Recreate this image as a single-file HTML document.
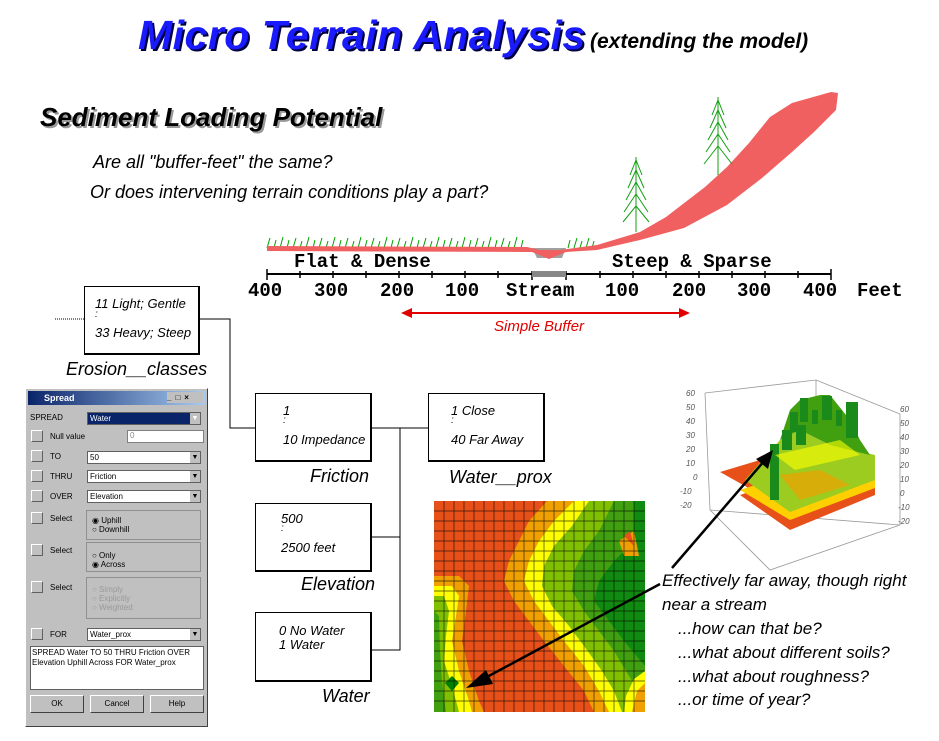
<!DOCTYPE html>
<html><head><meta charset="utf-8"><style>
body{margin:0;background:#fff;}
#c{position:relative;width:939px;height:741px;overflow:hidden;background:#fff;font-family:"Liberation Sans",sans-serif;}
.t{position:absolute;white-space:nowrap;}
.hw{font-style:italic;font-family:"Liberation Sans",sans-serif;color:#000;}
.box{position:absolute;border:1px solid #000;border-right:2px solid #000;border-bottom:2px solid #000;background:#fff;}
.mono{font-family:"Liberation Mono",monospace;font-weight:bold;font-size:19px;position:absolute;white-space:nowrap;}
.dlg{position:absolute;left:25px;top:388px;width:181px;height:337px;background:#c0c0c0;border:1px solid #fff;border-right:1px solid #404040;border-bottom:1px solid #404040;font-size:8px;color:#000;}
.dlg .lb{position:absolute;}
.chk{position:absolute;width:10px;height:10px;border:1px solid #fff;border-right-color:#606060;border-bottom-color:#606060;background:#c0c0c0;}
.cb{position:absolute;height:11px;background:#fff;border:1px solid #606060;font-size:8px;line-height:11px;padding-left:2px;}
.cb:after{content:"▼";position:absolute;right:0;top:0;width:10px;height:11px;background:#c0c0c0;font-size:7px;text-align:center;}
.grp{position:absolute;border:1px solid #909090;}
.btn{position:absolute;height:16px;background:#c0c0c0;border:1px solid #fff;border-right-color:#404040;border-bottom-color:#404040;text-align:center;line-height:16px;font-size:8px;}
</style></head><body><div id="c">

<div class="t" style="left:138px;top:12px;font-size:41px;font-weight:bold;font-style:italic;color:#1a1aff;text-shadow:2px 2px 0 #000040;letter-spacing:0.5px;">Micro Terrain Analysis</div>
<div class="t" style="left:590px;top:30px;font-size:21px;font-weight:bold;font-style:italic;color:#000;">(extending the model)</div>
<div class="t" style="left:40px;top:102px;font-size:26px;font-weight:bold;font-style:italic;color:#000;text-shadow:2px 2px 0 #999;">Sediment Loading Potential</div>
<div class="t hw" style="left:93px;top:152px;font-size:18px;">Are all "buffer-feet" the same?</div>
<div class="t hw" style="left:90px;top:182px;font-size:18px;">Or does intervening terrain conditions play a part?</div>

<svg style="position:absolute;left:0;top:0" width="939" height="741">
<g stroke="#00a000" stroke-width="1">
<path d="M267 248 L270 238 M274 248 L276 240 M280 248 L283 237 M287 248 L289 240 M293 248 L296 238 M300 248 L302 241 M306 248 L309 237 M313 248 L315 240 M319 248 L322 238 M326 248 L328 241 M332 248 L335 237 M339 248 L341 240 M345 248 L348 238 M352 248 L354 241 M358 248 L361 237 M365 248 L367 240 M371 248 L374 238 M378 248 L380 241 M384 248 L387 237 M391 248 L393 240 M397 248 L400 238 M404 248 L406 241 M410 248 L413 237 M417 248 L419 240 M423 248 L426 238 M430 248 L432 241 M436 248 L439 237 M443 248 L445 240 M449 248 L452 238 M456 248 L458 241 M462 248 L465 237 M469 248 L471 240 M475 248 L478 238 M482 248 L484 241 M488 248 L491 237 M495 248 L497 240 M501 248 L504 238 M508 248 L510 241 M514 248 L517 237 M521 248 L523 240 M568 248 L570 240 M574 248 L577 238 M580 248 L582 241 M586 248 L589 238 M592 248 L594 241"/>
</g>
<polygon points="532,248 566,248 562,258 537,258" fill="#a0a0a0"/>
<polygon points="267,246 527,247 540,250 560,250 597,245 640,232 666,217 705,187 727,167 749,143 770,117 792,103 831,92 838,93 836,110 814,132 792,152 762,178 727,205 684,228 640,240 597,250 566,252 549,259 532,252 527,252 267,251" fill="#f06060"/>
<g stroke="#10a010" stroke-width="1" fill="none">
<line x1="636" y1="157" x2="636" y2="232"/>
<path d="M636 160 L630 175 M636 160 L642 175 M636 170 L628 188 M636 170 L644 188 M636 182 L626 200 M636 182 L646 200 M636 194 L624 212 M636 194 L648 212 M636 206 L623 222 M636 206 L649 222"/>
<line x1="718" y1="97" x2="718" y2="175"/>
<path d="M718 100 L712 115 M718 100 L724 115 M718 110 L710 128 M718 110 L726 128 M718 122 L708 140 M718 122 L728 140 M718 134 L706 152 M718 134 L730 152 M718 146 L704 164 M718 146 L732 164"/>
</g>
<line x1="267" y1="274" x2="831" y2="274" stroke="#000" stroke-width="2"/>
<g stroke="#000" stroke-width="1.5">
<path d="M267 269V280 M300 271V278 M333 271V278 M366 271V278 M399 271V278 M432 271V278 M465 271V278 M498 271V278 M532 271V280 M566 271V280 M600 271V278 M633 271V278 M666 271V278 M699 271V278 M732 271V278 M765 271V278 M798 271V278 M831 269V280"/>
</g>
<rect x="532" y="271" width="34" height="6" fill="#888"/>
<line x1="410" y1="313" x2="680" y2="313" stroke="#e00000" stroke-width="2"/>
<polygon points="401,313 412,308 412,318" fill="#e00000"/>
<polygon points="690,313 679,308 679,318" fill="#e00000"/>
<g stroke="#000" stroke-width="1" fill="none">
<line x1="55" y1="319" x2="84" y2="319" stroke-dasharray="1,1"/>
<polyline points="199,319 230,319 230,428 255,428"/>
<line x1="371" y1="428" x2="428" y2="428"/>
<polyline points="400,428 400,650 371,650"/>
<line x1="371" y1="537" x2="400" y2="537"/>
</g>
</svg>

<div class="t mono" style="left:294px;top:251px;">Flat &amp; Dense</div>
<div class="t mono" style="left:612px;top:251px;">Steep &amp; Sparse</div>
<div class="mono" style="left:248px;top:280px;">400</div>
<div class="mono" style="left:314px;top:280px;">300</div>
<div class="mono" style="left:380px;top:280px;">200</div>
<div class="mono" style="left:445px;top:280px;">100</div>
<div class="mono" style="left:506px;top:280px;">Stream</div>
<div class="mono" style="left:605px;top:280px;">100</div>
<div class="mono" style="left:672px;top:280px;">200</div>
<div class="mono" style="left:737px;top:280px;">300</div>
<div class="mono" style="left:803px;top:280px;">400</div>
<div class="mono" style="left:857px;top:280px;">Feet</div>
<div class="t" style="left:494px;top:318px;font-size:15px;font-style:italic;color:#e00000;">Simple Buffer</div>

<div class="box" style="left:84px;top:286px;width:113px;height:66px;"></div>
<div class="t hw" style="left:95px;top:296px;font-size:13px;">11 Light; Gentle</div>
<div class="t hw" style="left:95px;top:309px;font-size:10px;">:</div>
<div class="t hw" style="left:95px;top:325px;font-size:13px;">33 Heavy; Steep</div>
<div class="t hw" style="left:66px;top:359px;font-size:18px;">Erosion__classes</div>

<div class="box" style="left:255px;top:393px;width:114px;height:66px;"></div>
<div class="t hw" style="left:283px;top:403px;font-size:13px;">1</div>
<div class="t hw" style="left:283px;top:415px;font-size:10px;">:</div>
<div class="t hw" style="left:283px;top:432px;font-size:13px;">10 Impedance</div>
<div class="t hw" style="left:310px;top:466px;font-size:18px;">Friction</div>

<div class="box" style="left:428px;top:393px;width:114px;height:66px;"></div>
<div class="t hw" style="left:451px;top:403px;font-size:13px;">1 Close</div>
<div class="t hw" style="left:451px;top:415px;font-size:10px;">:</div>
<div class="t hw" style="left:451px;top:432px;font-size:13px;">40 Far Away</div>
<div class="t hw" style="left:449px;top:467px;font-size:18px;">Water__prox</div>

<div class="box" style="left:255px;top:503px;width:114px;height:66px;"></div>
<div class="t hw" style="left:281px;top:511px;font-size:13px;">500</div>
<div class="t hw" style="left:281px;top:523px;font-size:10px;">:</div>
<div class="t hw" style="left:281px;top:540px;font-size:13px;">2500 feet</div>
<div class="t hw" style="left:301px;top:574px;font-size:18px;">Elevation</div>

<div class="box" style="left:255px;top:612px;width:114px;height:67px;"></div>
<div class="t hw" style="left:279px;top:623px;font-size:13px;">0 No Water</div>
<div class="t hw" style="left:279px;top:637px;font-size:13px;">1 Water</div>
<div class="t hw" style="left:322px;top:686px;font-size:18px;">Water</div>

<div class="dlg">
<div style="position:absolute;left:2px;top:2px;right:2px;height:14px;background:linear-gradient(90deg,#0a246a,#a6caf0);color:#fff;font-weight:bold;font-size:9px;line-height:14px;padding-left:16px;">Spread
<span style="position:absolute;right:2px;top:1px;width:36px;height:11px;background:#c0c0c0;color:#000;font-size:8px;line-height:11px;letter-spacing:4px;">_□×</span></div>
<div class="lb" style="left:4px;top:24px;">SPREAD</div>
<div class="cb" style="left:61px;top:23px;width:110px;background:#0a246a;color:#fff;">Water</div>
<div class="chk" style="left:5px;top:41px"></div><div class="lb" style="left:24px;top:43px;">Null value</div>
<div style="position:absolute;left:101px;top:41px;width:73px;height:11px;background:#fff;border:1px solid #808080;color:#888;font-size:8px;padding-left:2px">0</div>
<div class="chk" style="left:5px;top:61px"></div><div class="lb" style="left:24px;top:63px;">TO</div>
<div class="cb" style="left:61px;top:62px;width:110px;">50</div>
<div class="chk" style="left:5px;top:81px"></div><div class="lb" style="left:24px;top:83px;">THRU</div>
<div class="cb" style="left:61px;top:81px;width:110px;">Friction</div>
<div class="chk" style="left:5px;top:101px"></div><div class="lb" style="left:24px;top:103px;">OVER</div>
<div class="cb" style="left:61px;top:101px;width:110px;">Elevation</div>
<div class="chk" style="left:5px;top:123px"></div><div class="lb" style="left:24px;top:125px;">Select</div>
<div class="grp" style="left:60px;top:121px;width:113px;height:28px;"></div>
<div class="lb" style="left:66px;top:127px;">◉ Uphill<br>○ Downhill</div>
<div class="chk" style="left:5px;top:155px"></div><div class="lb" style="left:24px;top:157px;">Select</div>
<div class="grp" style="left:60px;top:153px;width:113px;height:28px;"></div>
<div class="lb" style="left:66px;top:162px;">○ Only<br>◉ Across</div>
<div class="chk" style="left:5px;top:192px"></div><div class="lb" style="left:24px;top:194px;">Select</div>
<div class="grp" style="left:60px;top:188px;width:113px;height:40px;"></div>
<div class="lb" style="left:66px;top:196px;color:#999;">○ Simply<br>○ Explicitly<br>○ Weighted</div>
<div class="chk" style="left:5px;top:239px"></div><div class="lb" style="left:24px;top:241px;">FOR</div>
<div class="cb" style="left:61px;top:239px;width:110px;">Water_prox</div>
<div style="position:absolute;left:4px;top:257px;width:170px;height:40px;background:#fff;border:1px solid #606060;font-size:8px;line-height:10px;padding:1px;">SPREAD Water TO 50 THRU Friction OVER Elevation Uphill Across FOR Water_prox</div>
<div class="btn" style="left:4px;top:306px;width:52px;">OK</div>
<div class="btn" style="left:64px;top:306px;width:52px;">Cancel</div>
<div class="btn" style="left:124px;top:306px;width:52px;">Help</div>
</div>

<svg style="position:absolute;left:434px;top:501px" width="211" height="211" viewBox="0 0 211 211">
<rect width="211" height="211" fill="#e8501a"/>
<polygon points="113,0 95,20 85,40 75,60 70,80 80,100 95,120 110,140 130,165 150,190 160,211 211,211 211,0" fill="#f0a000"/>
<polygon points="140,0 120,20 105,40 95,60 90,80 100,100 115,120 130,140 150,165 165,190 175,211 211,211 211,0" fill="#ffff00"/>
<polygon points="155,0 138,25 120,45 110,65 108,85 118,105 135,125 150,145 168,170 180,190 188,211 211,211 211,0" fill="#80c000"/>
<polygon points="180,0 165,30 150,50 140,70 138,90 150,110 165,130 180,150 195,175 211,200 211,0" fill="#40a010"/>
<polygon points="200,0 200,40 180,60 165,80 160,100 175,120 190,140 211,165 211,0" fill="#108a10"/>
<polygon points="211,170 200,178 192,195 190,211 211,211" fill="#ffff00"/>
<polygon points="211,182 203,190 198,211 211,211" fill="#f0a000"/>
<polygon points="0,75 25,75 35,85 32,110 28,140 35,170 45,200 50,211 0,211" fill="#f0a000"/>
<polygon points="0,85 18,85 25,95 22,115 18,140 25,170 35,200 38,211 0,211" fill="#ffff00"/>
<polygon points="0,95 10,95 15,110 12,135 10,160 18,185 25,211 0,211" fill="#80c000"/>
<polygon points="0,110 5,115 6,150 8,180 12,211 0,211" fill="#40a010"/>
<polygon points="185,40 200,30 205,55 190,55" fill="#f0a000"/>
<polygon points="190,35 196,30 200,45" fill="#e8501a"/>
<polygon points="18,175 25,182 18,190 11,182" fill="#008000"/>
<g stroke="#000" stroke-width="0.7" opacity="0.75">
<path d="M0 10H211M0 20H211M0 30H211M0 40H211M0 50H211M0 60H211M0 70H211M0 80H211M0 90H211M0 100H211M0 110H211M0 120H211M0 130H211M0 140H211M0 150H211M0 160H211M0 170H211M0 180H211M0 190H211M0 200H211M10 0V211M20 0V211M30 0V211M40 0V211M50 0V211M60 0V211M70 0V211M80 0V211M90 0V211M100 0V211M110 0V211M120 0V211M130 0V211M140 0V211M150 0V211M160 0V211M170 0V211M180 0V211M190 0V211M200 0V211"/>
</g>
</svg>

<svg style="position:absolute;left:0;top:0" width="939" height="741">
<g stroke="#999" stroke-width="0.8" fill="none">
<polyline points="705,393 816,380 900,414 900,525 770,570 710,510 705,393"/>
<line x1="816" y1="380" x2="816" y2="430"/>
<line x1="710" y1="510" x2="900" y2="525"/>
</g>
<g font-size="8" fill="#555" font-style="italic" font-family="Liberation Sans,sans-serif">
<text x="686" y="396">60</text><text x="686" y="410">50</text><text x="686" y="424">40</text><text x="686" y="438">30</text><text x="686" y="452">20</text><text x="686" y="466">10</text><text x="693" y="480">0</text><text x="680" y="494">-10</text><text x="680" y="508">-20</text>
<text x="900" y="412">60</text><text x="900" y="426">50</text><text x="900" y="440">40</text><text x="900" y="454">30</text><text x="900" y="468">20</text><text x="900" y="482">10</text><text x="900" y="496">0</text><text x="898" y="510">-10</text><text x="898" y="524">-20</text>
</g>
<polygon points="720,472 760,460 770,500" fill="#e8501a"/>
<polygon points="740,495 845,460 875,470 875,495 790,530" fill="#e8501a"/>
<polygon points="740,490 845,455 875,465 875,488 790,520" fill="#ffd000"/>
<polygon points="745,480 780,440 800,430 830,445 875,455 875,480 790,512" fill="#9ccc20"/>
<polygon points="780,440 790,410 800,400 820,395 830,395 850,420 860,440 870,455 830,445 800,430" fill="#40a010"/>
<g fill="#1a8a1a">
<rect x="800" y="398" width="8" height="24"/><rect x="812" y="410" width="6" height="14"/>
<rect x="822" y="396" width="10" height="24"/><rect x="836" y="410" width="6" height="16"/>
<rect x="846" y="402" width="12" height="36"/><rect x="790" y="412" width="8" height="20"/>
<rect x="770" y="444" width="9" height="56"/>
<rect x="782" y="430" width="10" height="20"/><rect x="796" y="425" width="10" height="20"/>
</g>
<polygon points="780,475 820,470 850,485 800,500" fill="#f0a000" opacity="0.7"/>
<polygon points="775,455 840,440 860,455 795,470" fill="#ffff00" opacity="0.6"/>
<g stroke="#000" stroke-width="2.5">
<line x1="672" y1="568" x2="765" y2="460"/>
<line x1="660" y1="584" x2="485" y2="678"/>
</g>
<polygon points="773,450 756,459 768,469" fill="#000"/>
<polygon points="466,688 486,670 493,684" fill="#000"/>
</svg>

<div class="t hw" style="left:662px;top:571px;font-size:17px;">Effectively far away, though right</div>
<div class="t hw" style="left:662px;top:595px;font-size:17px;">near a stream</div>
<div class="t hw" style="left:678px;top:619px;font-size:17px;">...how can that be?</div>
<div class="t hw" style="left:678px;top:643px;font-size:17px;">...what about different soils?</div>
<div class="t hw" style="left:678px;top:667px;font-size:17px;">...what about roughness?</div>
<div class="t hw" style="left:678px;top:690px;font-size:17px;">...or time of year?</div>

</div></body></html>
